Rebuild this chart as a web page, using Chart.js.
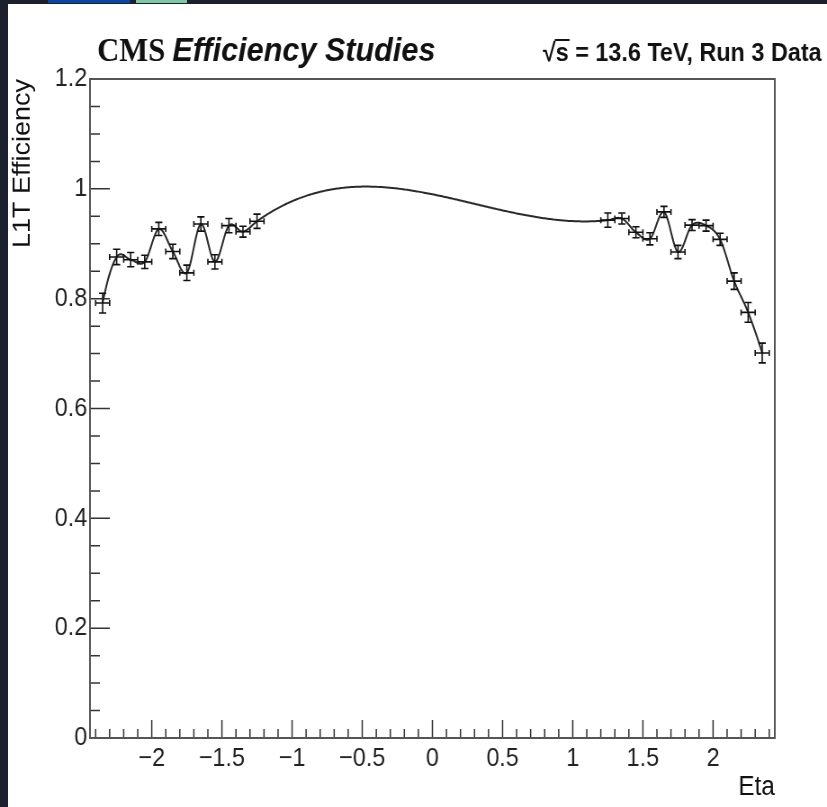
<!DOCTYPE html>
<html lang="en">
<head>
<meta charset="utf-8">
<title>L1T Efficiency vs Eta</title>
<script src="https://cdn.jsdelivr.net/npm/chart.js@4.4.1/dist/chart.umd.min.js"></script>
<style>
  html, body { margin: 0; padding: 0; background: #fff; }
  body { position: relative; width: 827px; height: 807px; overflow: hidden; }
  #eff-chart { position: absolute; left: 0; top: 0; }
  .bar-top { position: absolute; left: 0; top: 0; width: 827px; height: 4px; background: #1c212d; }
  .bar-left { position: absolute; left: 0; top: 0; width: 8px; height: 807px; background: #1c212d; }
  .tab { position: absolute; top: 0; height: 3px; }
  .tab-blue { left: 48px; width: 82px; background: #0b46a6; }
  .tab-green { left: 136px; width: 51px; background: #7fc8a2; }
</style>
</head>
<body>
<!-- canvas is drawn wider and squeezed to the page width, like the exported plot -->
<canvas id="eff-chart" width="919" height="807" style="width:827px;height:807px"></canvas>
<div class="bar-top"></div>
<div class="bar-left"></div>
<div class="tab tab-blue"></div>
<div class="tab tab-green"></div>
<script>
// Bin-Mitten in Eta (Bins 0.1 breit) und gemessene L1T-Effizienz
const etaCenters = [
  -2.35, -2.25, -2.15, -2.05, -1.95, -1.85, -1.75, -1.65, -1.55, -1.45, -1.35, -1.25,
   1.25,  1.35,  1.45,  1.55,  1.65,  1.75,  1.85,  1.95,  2.05,  2.15,  2.25,  2.35
];
const efficiency = [
  0.792, 0.876, 0.871, 0.867, 0.927, 0.886, 0.847, 0.936, 0.867, 0.933, 0.922, 0.941,
  0.943, 0.946, 0.921, 0.909, 0.958, 0.885, 0.934, 0.933, 0.908, 0.832, 0.775, 0.701
];
const effError = [
  0.018, 0.014, 0.013, 0.012, 0.012, 0.013, 0.014, 0.013, 0.013, 0.013, 0.010, 0.013,
  0.013, 0.010, 0.010, 0.011, 0.010, 0.012, 0.010, 0.010, 0.011, 0.015, 0.018, 0.018
];
const etaHalfWidth = 0.05;

const etaRange = [-2.44, 2.44];
const effRange = [0, 1.2];

const titleLeft = ["CMS", "Efficiency Studies"];
const titleRight = ["\u221A", "s = 13.6 TeV, Run 3 Data"];

// Zahlen mit echtem Minuszeichen
function fmtTick(v) {
  const r = Math.round(v * 100) / 100;
  return r < 0 ? "\u2212" + Math.abs(r) : String(r);
}

// Steigungen nach Bessel (Parabel durch drei Nachbarpunkte)
function besselSlopes(xs, ys) {
  const n = xs.length;
  const h = [], d = [], m = [];
  for (let i = 0; i < n - 1; i++) {
    h[i] = xs[i + 1] - xs[i];
    d[i] = (ys[i + 1] - ys[i]) / h[i];
  }
  for (let i = 1; i < n - 1; i++) {
    m[i] = (h[i] * d[i - 1] + h[i - 1] * d[i]) / (h[i - 1] + h[i]);
  }
  m[0] = ((2 * h[0] + h[1]) * d[0] - h[0] * d[1]) / (h[0] + h[1]);
  const k = n - 2;
  m[n - 1] = ((2 * h[k] + h[k - 1]) * d[k] - h[k] * d[k - 1]) / (h[k] + h[k - 1]);
  return m;
}

// Hermite-Kurve zwischen Punkt i und i+1
function hermite(xs, ys, m, i, x) {
  const hi = xs[i + 1] - xs[i];
  const t = (x - xs[i]) / hi;
  const t2 = t * t, t3 = t2 * t;
  return (2 * t3 - 3 * t2 + 1) * ys[i] + (t3 - 2 * t2 + t) * hi * m[i]
    + (-2 * t3 + 3 * t2) * ys[i + 1] + (t3 - t2) * hi * m[i + 1];
}

// Rahmen, Ticks nach innen, Fehlerbalken, Kurve und Kopfzeile
const rootStyle = {
  id: "rootStyle",
  afterDatasetsDraw(chart) {
    const { ctx, chartArea: area, scales: { x, y } } = chart;
    ctx.save();

    // Ticks
    ctx.strokeStyle = "#333";
    ctx.lineWidth = 1.5;
    ctx.beginPath();
    for (let k = -24; k <= 24; k++) {
      const px = x.getPixelForValue(k / 10);
      if (px < area.left || px > area.right) continue;
      const len = k % 5 === 0 ? 18 : 9;
      ctx.moveTo(px, area.bottom);
      ctx.lineTo(px, area.bottom - len);
    }
    for (let k = 1; k <= 24; k++) {
      const py = y.getPixelForValue(k * 0.05);
      const len = k % 4 === 0 ? 22 : 11;
      ctx.moveTo(area.left, py);
      ctx.lineTo(area.left + len, py);
    }
    ctx.stroke();

    // Rahmen
    ctx.strokeStyle = "#555";
    ctx.lineWidth = 2;
    ctx.strokeRect(area.left, area.top, area.right - area.left, area.bottom - area.top);

    // glatte Kurve durch alle Punkte
    const slopes = besselSlopes(etaCenters, efficiency);
    ctx.strokeStyle = "#2a2a2a";
    ctx.lineWidth = 2;
    ctx.beginPath();
    ctx.moveTo(x.getPixelForValue(etaCenters[0]), y.getPixelForValue(efficiency[0]));
    for (let i = 0; i < etaCenters.length - 1; i++) {
      const span = etaCenters[i + 1] - etaCenters[i];
      const steps = Math.max(12, Math.ceil(span / 0.01));
      for (let s = 1; s <= steps; s++) {
        const ex = etaCenters[i] + span * s / steps;
        ctx.lineTo(x.getPixelForValue(ex), y.getPixelForValue(hermite(etaCenters, efficiency, slopes, i, ex)));
      }
    }
    ctx.stroke();

    // Fehlerbalken
    ctx.strokeStyle = "#111";
    ctx.lineWidth = 1.6;
    ctx.beginPath();
    etaCenters.forEach((eta, i) => {
      const px = x.getPixelForValue(eta);
      const py = y.getPixelForValue(efficiency[i]);
      const xl = x.getPixelForValue(eta - etaHalfWidth);
      const xr = x.getPixelForValue(eta + etaHalfWidth);
      const yt = y.getPixelForValue(efficiency[i] + effError[i]);
      const yb = y.getPixelForValue(efficiency[i] - effError[i]);
      ctx.moveTo(xl, py); ctx.lineTo(xr, py);
      ctx.moveTo(px, yt); ctx.lineTo(px, yb);
      ctx.moveTo(px - 4, yt); ctx.lineTo(px + 4, yt);
      ctx.moveTo(px - 4, yb); ctx.lineTo(px + 4, yb);
      ctx.moveTo(xl, py - 3); ctx.lineTo(xl, py + 3);
      ctx.moveTo(xr, py - 3); ctx.lineTo(xr, py + 3);
    });
    ctx.stroke();

    // Kopfzeile
    ctx.fillStyle = "#111";
    ctx.textBaseline = "alphabetic";
    ctx.textAlign = "left";
    const base = 61;
    ctx.font = 'bold 34px "Liberation Serif"';
    ctx.fillText(titleLeft[0], 108, base);
    const cmsW = ctx.measureText(titleLeft[0]).width;
    ctx.font = 'italic bold 34px "Liberation Sans"';
    ctx.fillText(titleLeft[1], 108 + cmsW + 8, base);

    ctx.font = 'bold 26px "Liberation Sans"';
    const w1 = ctx.measureText(titleRight[0]).width;
    const w2 = ctx.measureText(titleRight[1]).width;
    const sW = ctx.measureText("s").width;
    const start = 913 - w1 - w2;
    ctx.fillText(titleRight[0], start, base);
    ctx.fillText(titleRight[1], start + w1, base);
    ctx.strokeStyle = "#111";
    ctx.lineWidth = 2;
    ctx.beginPath();
    ctx.moveTo(start + w1 - 1, base - 21);
    ctx.lineTo(start + w1 + sW + 1, base - 21);
    ctx.stroke();

    ctx.restore();
  }
};

const labelFont = { family: "Liberation Sans", size: 26 };

new Chart(document.getElementById("eff-chart"), {
  type: "scatter",
  data: {
    datasets: [{
      label: "L1T Efficiency",
      data: etaCenters.map((eta, i) => ({ x: eta, y: efficiency[i] })),
      pointRadius: 0,
      showLine: false
    }]
  },
  options: {
    responsive: false,
    animation: false,
    devicePixelRatio: 1,
    layout: { padding: { top: 79, right: 58, bottom: 0, left: 0 } },
    plugins: { legend: { display: false }, tooltip: { enabled: false } },
    scales: {
      x: {
        type: "linear",
        min: etaRange[0],
        max: etaRange[1],
        grid: { display: false, drawTicks: false },
        border: { display: false },
        ticks: {
          stepSize: 0.5, includeBounds: false, autoSkip: false, maxRotation: 0,
          padding: 5, color: "#222", font: labelFont, callback: fmtTick
        },
        title: {
          display: true, text: "Eta", align: "end", color: "#111",
          font: { family: "Liberation Sans", size: 27 }, padding: { top: 0, bottom: 3 }
        },
        afterFit(scale) { scale.height = 69; }
      },
      y: {
        type: "linear",
        min: effRange[0],
        max: effRange[1],
        grid: { display: false, drawTicks: false },
        border: { display: false },
        ticks: { stepSize: 0.2, padding: 3, color: "#222", font: labelFont, callback: fmtTick },
        title: {
          display: true, text: "L1T Efficiency", align: "end", color: "#111",
          font: { family: "Liberation Sans", size: 27 }, padding: { top: 9, bottom: 0 }
        },
        afterFit(scale) { scale.width = 100; }
      }
    }
  },
  plugins: [rootStyle]
});
</script>
</body>
</html>
